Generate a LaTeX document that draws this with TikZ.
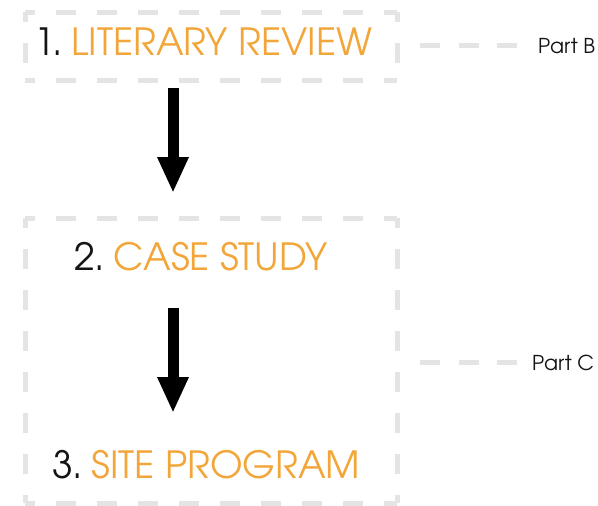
\documentclass[tikz,border=0pt]{standalone}
\usepackage{fontspec}
\setmainfont{TeX Gyre Adventor}
\usetikzlibrary{arrows.meta}
\definecolor{accent}{RGB}{242,166,58}
\definecolor{frame}{RGB}{228,228,228}
\definecolor{ink}{RGB}{20,20,20}
\begin{document}
\begin{tikzpicture}[x=1pt,y=-1pt,
  boxside/.style={draw=frame,line width=5pt,dash pattern=on 20pt off 21pt,dash phase=10pt},
  leader/.style={draw=frame,line width=5pt,dash pattern=on 20pt off 18.5pt},
  stage/.style={inner sep=0pt,anchor=base west,font=\fontsize{37.5}{40}\selectfont,text=ink},
  partlabel/.style={inner sep=0pt,anchor=base west,font=\fontsize{20.5}{24}\selectfont,text=ink},
  flow/.style={line width=11pt,-{Triangle[length=36pt,width=29pt]}}]
\useasboundingbox (0,0) rectangle (598,506);
% dashed frames
\path[boxside] (25,12) -- (397,12);
\path[boxside] (25,80) -- (397,80);
\path[boxside] (25,12) -- (25,80);
\path[boxside] (397,12) -- (397,80);
\path[boxside] (25,218) -- (397,218);
\path[boxside] (25,503) -- (397,503);
\path[boxside] (25,218) -- (25,503);
\path[boxside] (397,218) -- (397,503);
% stages
\node[stage] (s1) at (34,55) {1.\hspace{0.22em}\textcolor{accent}{LITERARY REVIEW}};
\node[stage] (s2) at (74,270) {2.\hspace{0.22em}\textcolor{accent}{CASE STUDY}};
\node[stage] (s3) at (52,478) {3.\hspace{0.22em}\textcolor{accent}{SITE PROGRAM}};
% arrows
\coordinate (a1s) at (173,88);
\coordinate (a1e) at (173,193);
\coordinate (a2s) at (173,308);
\coordinate (a2e) at (173,413);
\draw[flow] (a1s) -- (a1e);
\draw[flow] (a2s) -- (a2e);
% part labels
\node[partlabel] (pb) at (538,53) {Part B};
\node[partlabel] (pc) at (532,370) {Part C};
\coordinate (lb) at (420,45);
\coordinate (lc) at (420,362);
\path[leader] (lb) -- ++(97,0);
\path[leader] (lc) -- ++(97,0);
\end{tikzpicture}
\end{document}
